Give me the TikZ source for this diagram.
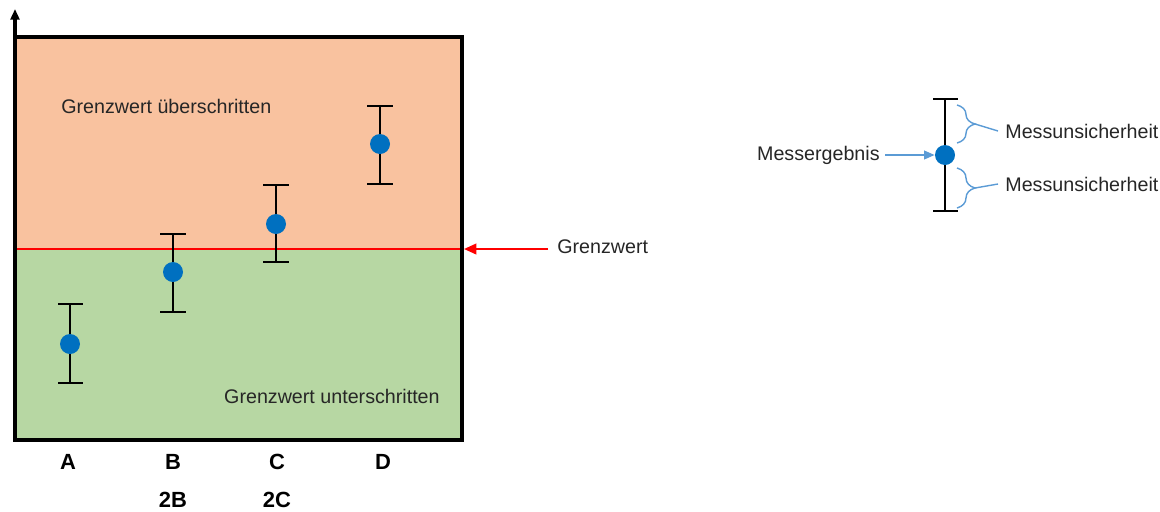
\documentclass[tikz,border=0pt]{standalone}
\usepackage{fontspec}
\setmainfont{Liberation Sans}
\usepackage{xcolor}
\usetikzlibrary{arrows.meta, positioning, decorations.pathreplacing}

\definecolor{over}{HTML}{F9C29F}
\definecolor{under}{HTML}{B7D7A3}
\definecolor{dotblue}{HTML}{0070C0}
\definecolor{legblue}{HTML}{5B9BD5}

\tikzset{
  errbar/.style={line width=1.5pt, black},
  dot/.style={circle, fill=dotblue, inner sep=0pt, minimum size=20*0.02cm},
  txt/.style={font=\fontsize{11.2}{13}\selectfont, inner sep=0pt, text=black!85},
  cat/.style={font=\fontsize{12.5}{14}\selectfont\bfseries, inner sep=0pt}
}

\begin{document}
\begin{tikzpicture}[x=0.02cm, y=-0.02cm]
        \useasboundingbox (0,0) rectangle (1160,511);

        % Areas
        \fill[over] (15,37) rectangle (462,249);
        \fill[under] (15,249) rectangle (462,440);
        \draw[red, line width=1.2pt] (15,249) -- (462,249);
        \draw[line width=1.8pt] (15,37) rectangle (462,440);
        \draw[line width=1.8pt, -{Triangle[length=6pt, width=5pt]}] (15,42) -- (15,9);

        \node (over) [txt, anchor=west] at (61,106) {Grenzwert überschritten};
        \node (under) [txt, anchor=east] at (440,396) {Grenzwert unterschritten};

        % Limit
        \coordinate (limit) at (464,249);
        \node (limittxt) [txt, anchor=west] at (557,247) {Grenzwert};
        \draw[red, line width=1.2pt, -{Triangle[length=7pt, width=6pt]}] (548,249) -- (limit);

        % Error bars
        \draw[errbar] (58,304) -- (83,304) (70,304) -- (70,383) (58,383) -- (83,383);
        \node (a) [dot] at (70,344) {};
        \draw[errbar] (160,234) -- (186,234) (173,234) -- (173,312) (160,312) -- (186,312);
        \node (b) [dot] at (173,272) {};
        \draw[errbar] (263,185) -- (289,185) (276,185) -- (276,262) (263,262) -- (289,262);
        \node (c) [dot] at (276,224) {};
        \draw[errbar] (367,106) -- (393,106) (380,106) -- (380,184) (367,184) -- (393,184);
        \node (d) [dot] at (380,144) {};

        % Categories
        \node (la) [cat] at (68,462) {A};
        \node (lb) [cat] at (173,462) {B};
        \node (lc) [cat] at (277,462) {C};
        \node (ld) [cat] at (383,462) {D};
        \node (l2b) [cat] at (173,500) {2B};
        \node (l2c) [cat] at (277,500) {2C};

        % Legend
        \draw[errbar] (933,99) -- (958,99) (945,99) -- (945,211) (933,211) -- (958,211);
        \node (leg) [dot] at (945,155) {};
        \node (result) [txt, anchor=east] at (880,155) {Messergebnis};
        \draw[legblue, line width=0.8pt, -{Triangle[length=6pt, width=5pt]}] ([xshift=5*0.02cm]result.east) -- (leg.west);

        \draw[legblue, line width=0.8pt, decorate, decoration={brace, amplitude=18*0.02cm}] (957,105) -- (957,143) coordinate[midway, xshift=18*0.02cm] (br1);
        \draw[legblue, line width=0.8pt, decorate, decoration={brace, amplitude=18*0.02cm}] (957,168) -- (957,208) coordinate[midway, xshift=18*0.02cm] (br2);
        \node (unc1) [txt, anchor=west] at (1005,131) {Messunsicherheit};
        \node (unc2) [txt, anchor=west] at (1005,184) {Messunsicherheit};
        \draw[legblue, line width=0.8pt] (br1) -- (unc1.west -| 998,0);
        \draw[legblue, line width=0.8pt] (br2) -- (unc2.west -| 998,0);
    \end{tikzpicture}
\end{document}
